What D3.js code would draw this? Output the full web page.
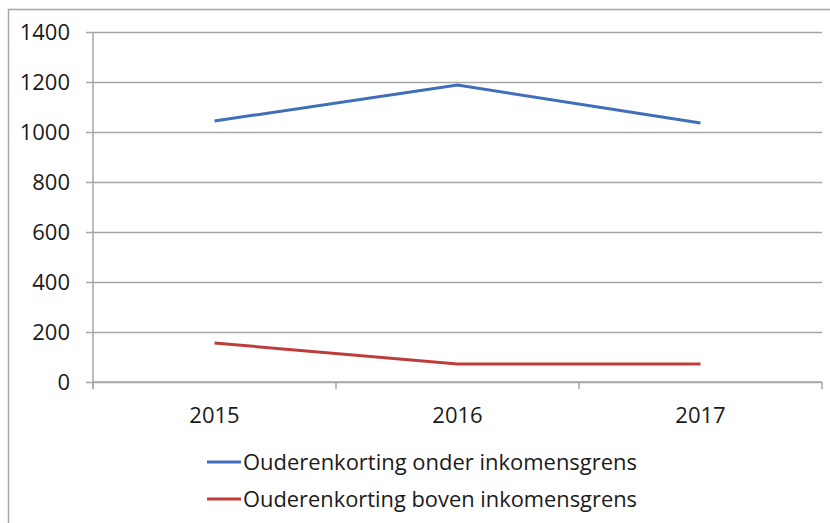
<!DOCTYPE html>
<html>
<head>
<meta charset="utf-8">
<script src="https://cdn.jsdelivr.net/npm/d3@7"></script>
<style>
  body { margin: 0; background: #fff; }
  text { font-family: "Open Sans", sans-serif; fill: #1a1a1a; }
</style>
</head>
<body>
<svg id="chart" width="830" height="523"></svg>
<script>
// Data
var years = ["2015", "2016", "2017"];
var onderValues = [1044, 1188, 1036];
var bovenValues = [156, 72, 72];
var seriesNames = ["Ouderenkorting onder inkomensgrens", "Ouderenkorting boven inkomensgrens"];
var seriesColors = ["#3f6fba", "#be3d3a"];
var yTicks = [0, 200, 400, 600, 800, 1000, 1200, 1400];

var fontSize = "22px";

var margin = {top: 32, right: 8, bottom: 141, left: 93},
    width = 830 - margin.left - margin.right,
    height = 523 - margin.top - margin.bottom;

var svg = d3.select("#chart");

// outer frame (cut off at right and bottom)
svg.append("path")
  .attr("d", "M8.5,523 L8.5,9.5 L830,9.5")
  .attr("fill", "none")
  .attr("stroke", "#a6a6a6")
  .attr("stroke-width", 1.5);

var g = svg.append("g")
  .attr("transform", "translate(" + margin.left + "," + margin.top + ")");

var x = d3.scaleBand().domain(years).range([0, width]);
var y = d3.scaleLinear().domain([0, 1400]).range([height, 0]);

// gridlines + y axis
var yAxis = d3.axisLeft(y).tickValues(yTicks).tickSize(-width - 7).tickFormat(d3.format("d"));
var yG = g.append("g").attr("class", "y-axis")
  .attr("transform", "translate(-7,0)")
  .call(yAxis);
yG.select(".domain").remove();
yG.selectAll(".tick line").attr("stroke", "#a6a6a6").attr("stroke-width", 1.5);
yG.selectAll(".tick text").attr("x", -16).style("font-size", fontSize).attr("fill", "#1a1a1a");

// vertical y axis line
g.append("line")
  .attr("x1", 0).attr("x2", 0).attr("y1", 0).attr("y2", height + 7)
  .attr("stroke", "#a6a6a6").attr("stroke-width", 1.5);

// x axis with category boundary ticks
var xG = g.append("g").attr("class", "x-axis")
  .attr("transform", "translate(0," + height + ")");
xG.append("line")
  .attr("x1", 0).attr("x2", width)
  .attr("stroke", "#a6a6a6").attr("stroke-width", 1.5);
var bounds = years.map(function(d) { return x(d); }).concat([width]);
xG.selectAll(".bound").data(bounds).join("line")
  .attr("class", "bound")
  .attr("x1", function(d) { return d; }).attr("x2", function(d) { return d; })
  .attr("y1", 0).attr("y2", 7)
  .attr("stroke", "#a6a6a6").attr("stroke-width", 1.5);
xG.selectAll(".xlabel").data(years).join("text")
  .attr("class", "xlabel")
  .attr("x", function(d) { return x(d) + x.bandwidth() / 2; })
  .attr("y", 41)
  .attr("text-anchor", "middle")
  .style("font-size", fontSize)
  .text(function(d) { return d; });

// lines
var line = d3.line()
  .x(function(d, i) { return x(years[i]) + x.bandwidth() / 2; })
  .y(function(d) { return y(d); });

[onderValues, bovenValues].forEach(function(vals, i) {
  g.append("path")
    .datum(vals)
    .attr("fill", "none")
    .attr("stroke", seriesColors[i])
    .attr("stroke-width", 3)
    .attr("d", line);
});

// legend
var legend = svg.append("g").attr("class", "legend");
var items = legend.selectAll("g").data(seriesNames).join("g")
  .attr("transform", function(d, i) { return "translate(207," + (462 + i * 37) + ")"; });
items.append("line")
  .attr("x1", 0).attr("x2", 34)
  .attr("stroke", function(d, i) { return seriesColors[i]; })
  .attr("stroke-width", 3);
items.append("text")
  .attr("x", 36)
  .attr("dy", "0.35em")
  .style("font-size", fontSize)
  .attr("textLength", 394)
  .attr("lengthAdjust", "spacingAndGlyphs")
  .text(function(d) { return d; });
</script>
</body>
</html>
